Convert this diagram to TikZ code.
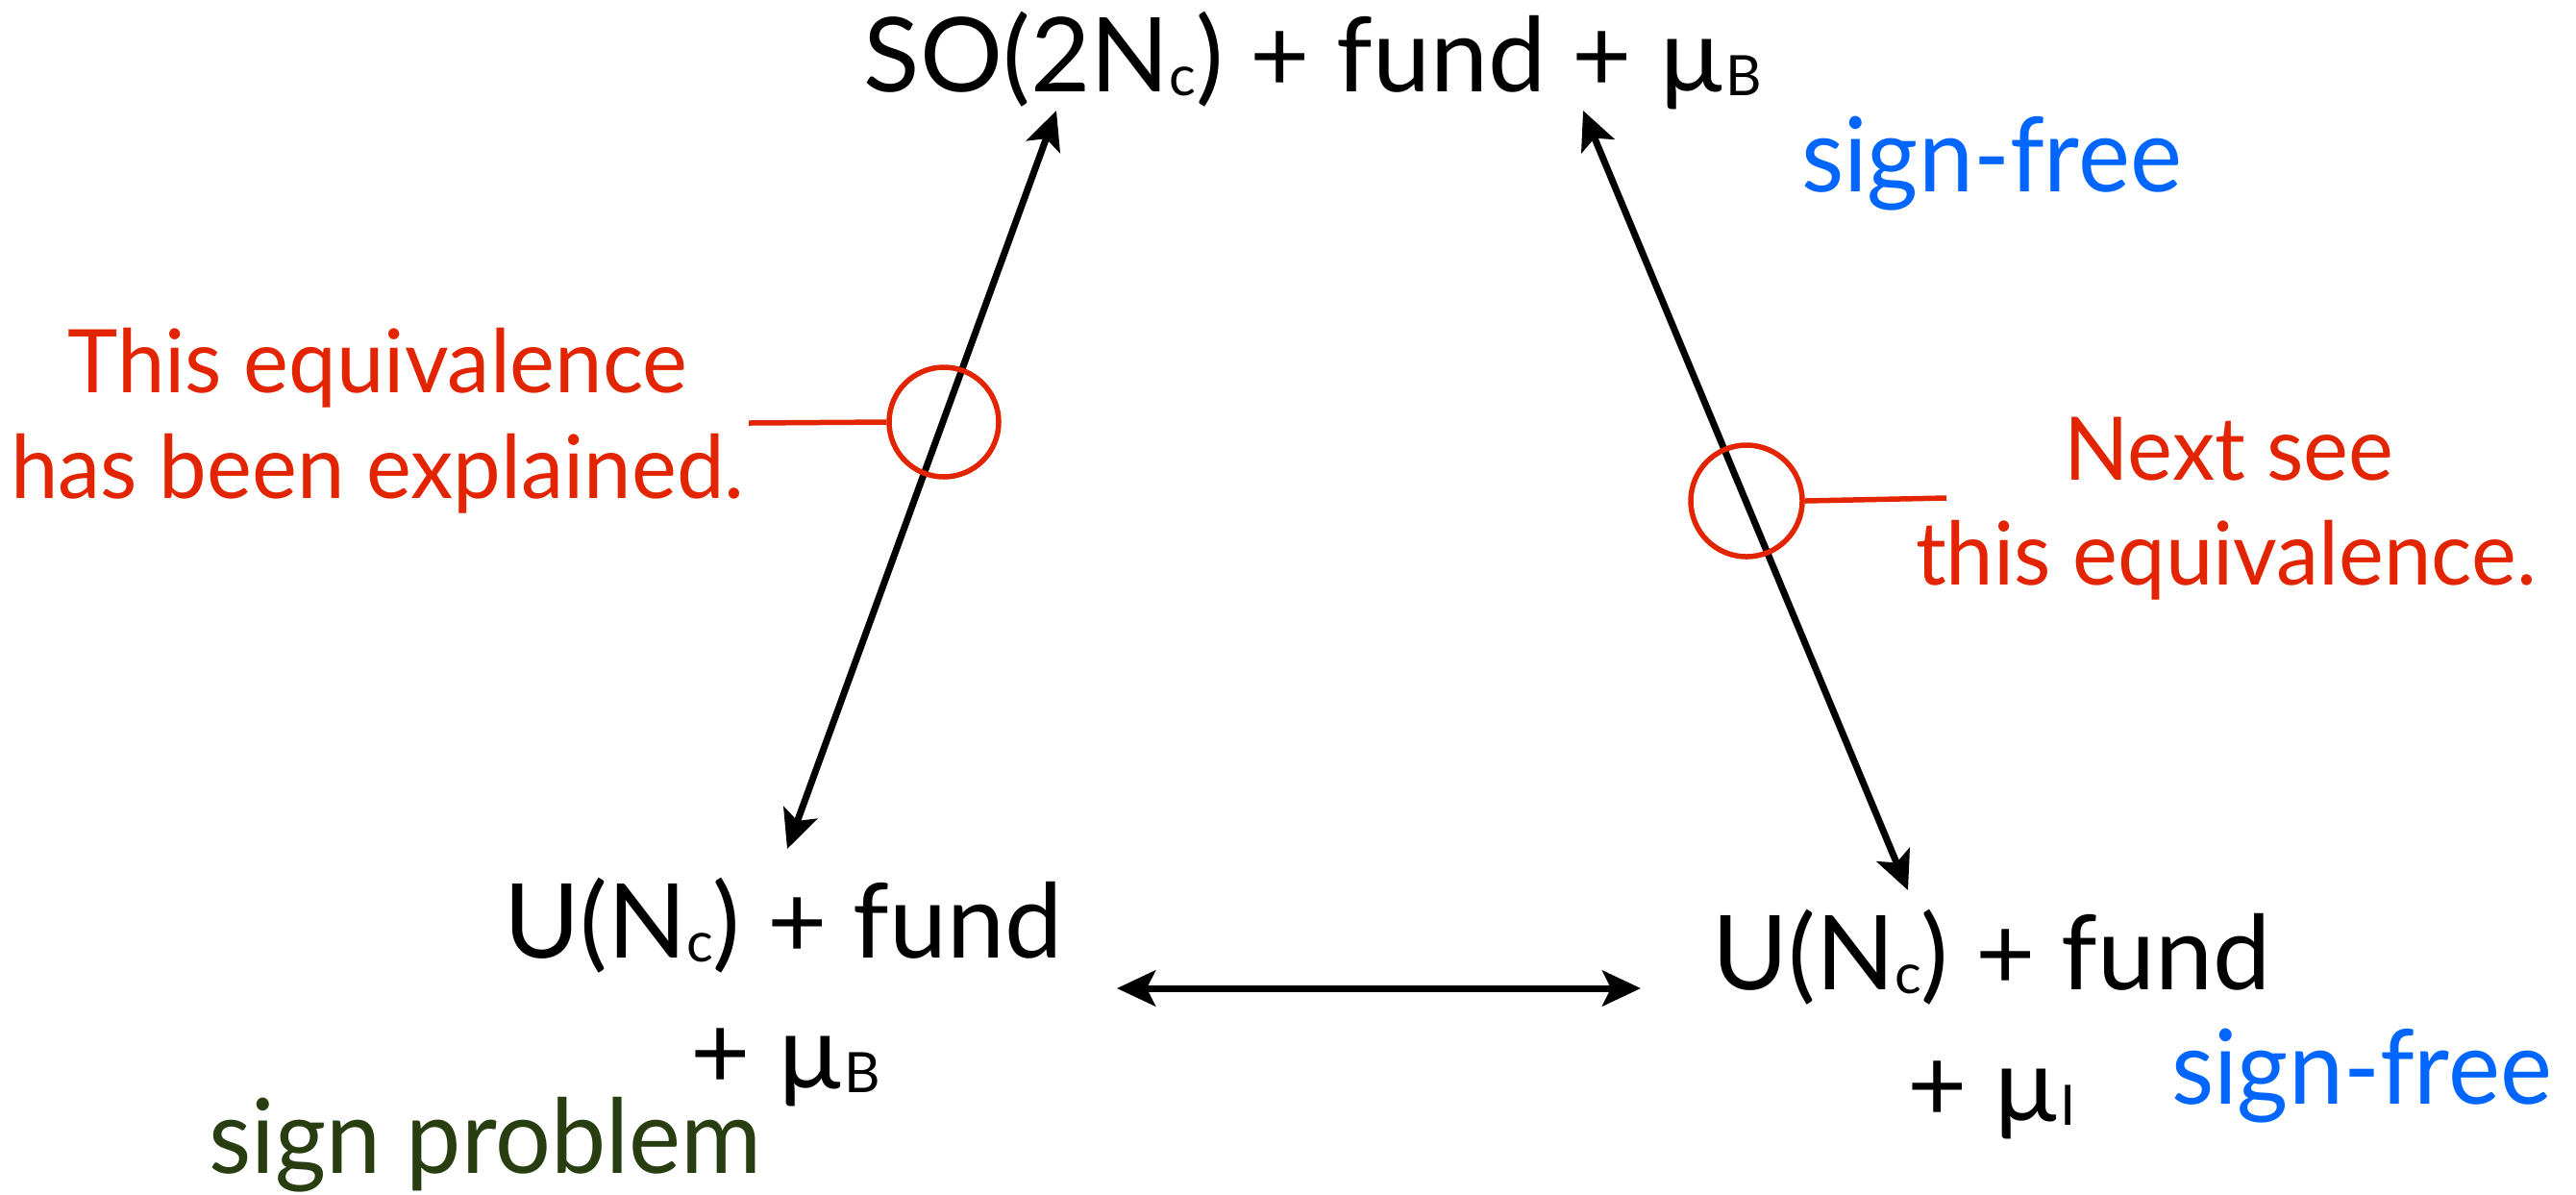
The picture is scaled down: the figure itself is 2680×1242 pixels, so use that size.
\documentclass[tikz,border=0pt]{standalone}
\usepackage{fontspec}
\setmainfont{Lato}
\newfontfamily\condfont{Lato}[FakeStretch=0.95]
\newfontfamily\redfont{Lato}[FakeStretch=0.97]
\usetikzlibrary{arrows.meta}
\definecolor{redc}{RGB}{227,36,0}
\definecolor{bluec}{RGB}{0,102,255}
\definecolor{greenc}{RGB}{40,62,16}
\newcommand\sbs[1]{\raisebox{-0.45mm}{\fontsize{16.5pt}{17pt}\selectfont #1}}
\begin{document}
\begin{tikzpicture}[x=0.1mm,y=-0.1mm,
  txt/.style={anchor=base, inner sep=0pt, font=\fontsize{30.6pt}{36pt}\selectfont},
  ctxt/.style={anchor=base, inner sep=0pt, font=\condfont\fontsize{30.6pt}{36pt}\selectfont},
  rtxt/.style={anchor=base, inner sep=0pt, text=redc, font=\redfont\fontsize{26pt}{31pt}\selectfont},
  arr/.style={line width=0.7mm, {Stealth[length=4mm,width=3.7mm,inset=0.9mm]}-{Stealth[length=4mm,width=3.7mm,inset=0.9mm]}},
  ring/.style={circle, draw=redc, line width=0.55mm, inner sep=0pt, minimum size=11.4mm},
  lead/.style={draw=redc, line width=0.55mm}]
\fill[white] (0,0) rectangle (2680,1242);
\useasboundingbox (0,0) rectangle (2680,1242);
% black labels
\node[txt] (top) at (1366,95) {SO(2N\sbs{c}) + fund + µ\sbs{B}};
\node[txt] (lb1) at (815,996) {U(N\sbs{c}) + fund};
\node[txt] (lb2) at (817,1132) {+ µ\sbs{B}};
\node[txt] (rb1) at (2072,1029) {U(N\sbs{c}) + fund};
\node[txt] (rb2) at (2072,1166) {+ µ\sbs{I}};
% status labels
\node[ctxt, text=bluec] (free1) at (2072,199) {sign-free};
\node[ctxt, text=bluec] (free2) at (2457,1148) {sign-free};
\node[ctxt, text=greenc] (sp) at (505,1220) {sign problem};
% red notes
\node[rtxt] (l1) at (393,408) {This equivalence};
\node[rtxt] (l2) at (393,518) {has been explained.};
\node[rtxt] (r1) at (2319,499) {Next see};
\node[rtxt] (r2) at (2316,608) {this equivalence.};
% arrow ends
\coordinate (a1) at (1099,115);
\coordinate (a2) at (819,883);
\coordinate (b1) at (1647,115);
\coordinate (b2) at (1985,926);
\coordinate (h1) at (1162,1028);
\coordinate (h2) at (1707,1028);
\draw[arr] (a1) -- (a2);
\draw[arr] (b1) -- (b2);
\draw[arr] (h1) -- (h2);
% highlight rings
\node[ring] (c1) at (982,439) {};
\node[ring, minimum width=11.6mm, minimum height=11.1mm] (c2) at (1817,521) {};
\coordinate (p1) at (779,440);
\coordinate (p2) at (2025,518);
\draw[lead] (p1) -- (c1.west);
\draw[lead] (c2.east) -- (p2);
\end{tikzpicture}
\end{document}
